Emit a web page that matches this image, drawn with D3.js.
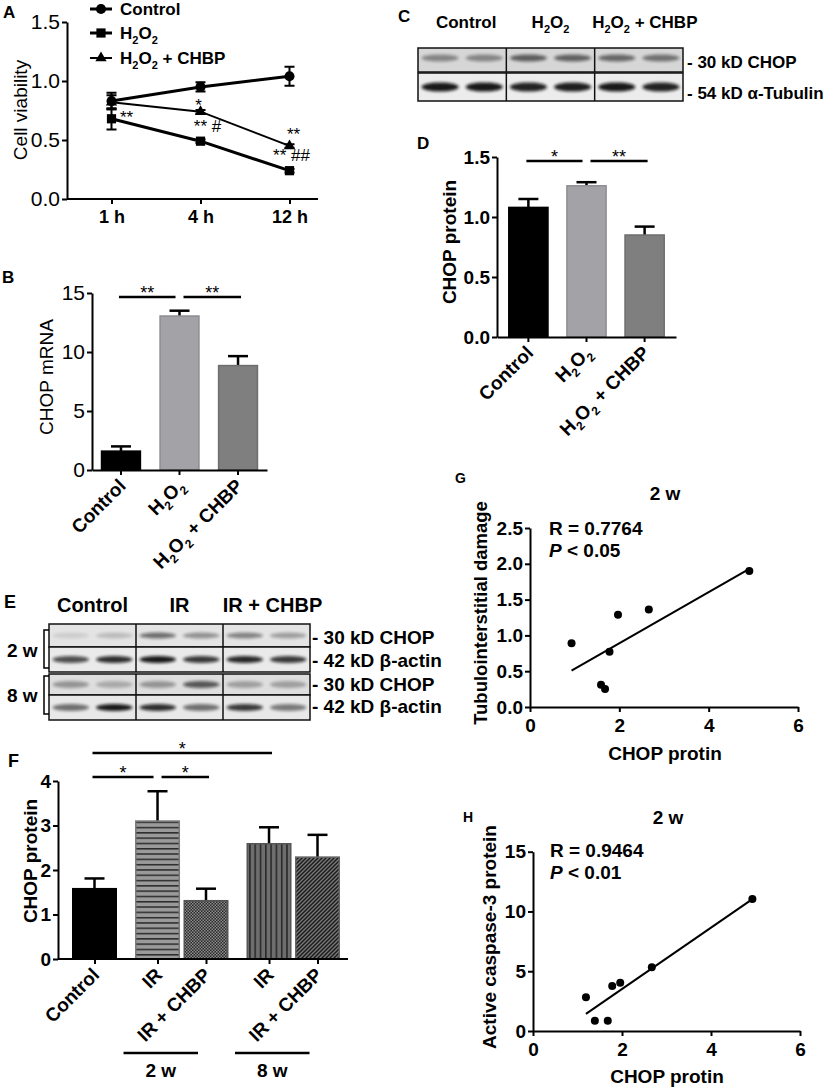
<!DOCTYPE html>
<html>
<head>
<meta charset="utf-8">
<script src="https://cdn.jsdelivr.net/npm/d3@7"></script>
<style>
  body { margin: 0; background: #fff; }
  svg text { font-family: "Liberation Sans", Arial, Helvetica, sans-serif; fill: #000; }
</style>
</head>
<body>
<svg id="fig" width="829" height="1089"></svg>
<script>
// ---- A: cell viability over time ----
const timeLabels = ['1 h', '4 h', '12 h'];
const seriesNamesA = ['Control', 'H2O2', 'H2O2 + CHBP'];
const viabilityControl = [0.83, 0.95, 1.04];
const viabilityControlErr = [0.07, 0.04, 0.08];
const viabilityH2O2 = [0.68, 0.49, 0.24];
const viabilityH2O2Err = [0.09, 0.015, 0.015];
const viabilityCHBP = [0.82, 0.74, 0.45];
const viabilityCHBPErr = [0.06, 0.015, 0.015];
const sigTextA = ['**', '*', '** #', '**', '** ##'];
const sigTimeA = ['1 h', '4 h', '4 h', '12 h', '12 h'];
const sigLevelA = [0.64, 0.75, 0.57, 0.50, 0.32];

// ---- B / D: cell groups ----
const groupsBD = ['Control', 'H2O2', 'H2O2 + CHBP'];
const mrnaMean = [1.6, 13.05, 8.85];
const mrnaErr = [0.4, 0.45, 0.8];
const proteinMean = [1.08, 1.26, 0.85];
const proteinErr = [0.07, 0.03, 0.07];

// ---- C: blot band intensities (6 lanes) ----
const blotCGroups = ['Control', 'H2O2', 'H2O2 + CHBP'];
const blotCRows = ['- 30 kD CHOP', '- 54 kD α-Tubulin'];
const blotCChop = [0.4, 0.4, 0.6, 0.58, 0.55, 0.5];
const blotCTubulin = [0.95, 0.95, 0.9, 0.92, 0.95, 0.9];

// ---- E: blot band intensities ----
const blotEGroups = ['Control', 'IR', 'IR + CHBP'];
const blotERows = ['- 30 kD CHOP', '- 42 kD β-actin', '- 30 kD CHOP', '- 42 kD β-actin'];
const blotEPeriods = ['2 w', '8 w'];
const blotE2wChop = [0.1, 0.18, 0.55, 0.38, 0.45, 0.32];
const blotE2wActin = [0.7, 0.85, 0.95, 0.8, 0.88, 0.8];
const blotE8wChop = [0.35, 0.25, 0.35, 0.65, 0.3, 0.3];
const blotE8wActin = [0.55, 0.95, 0.85, 0.55, 0.8, 0.5];

// ---- F: CHOP protein in kidney ----
const groupsF = ['Control', 'IR', 'IR + CHBP', 'IR', 'IR + CHBP'];
const periodF = ['', '2 w', '2 w', '8 w', '8 w'];
const chopF = [1.58, 3.1, 1.31, 2.59, 2.29];
const chopFErr = [0.23, 0.67, 0.27, 0.37, 0.5];

// ---- G / H: correlations at 2 w ----
const chopG = [0.93, 1.59, 1.68, 1.78, 1.97, 2.66, 4.91];
const damageG = [0.89, 0.31, 0.25, 0.77, 1.29, 1.36, 1.90];
const chopH = [1.19, 1.39, 1.68, 1.78, 1.96, 2.67, 4.93];
const caspaseH = [2.82, 0.86, 0.86, 3.76, 4.04, 5.33, 11.04];

const svg = d3.select('#fig');
const defs = svg.append('defs');

defs.append('filter').attr('id', 'blur')
    .attr('x', '-30%').attr('y', '-100%').attr('width', '160%').attr('height', '300%')
    .append('feGaussianBlur').attr('stdDeviation', 1.6);

function pattern(id, w, h, bg, draw) {
    const p = defs.append('pattern').attr('id', id)
        .attr('patternUnits', 'userSpaceOnUse').attr('width', w).attr('height', h);
    p.append('rect').attr('width', w).attr('height', h).attr('fill', bg);
    draw(p);
}
pattern('hlines', 6, 5.3, '#9a9a9a', p =>
    p.append('rect').attr('width', 6).attr('height', 1.5).attr('fill', '#2b2b2b'));
pattern('checks', 3, 3, '#2a2a2a', p => {
    p.append('rect').attr('width', 1.5).attr('height', 1.5).attr('fill', '#8c8c8c');
    p.append('rect').attr('x', 1.5).attr('y', 1.5).attr('width', 1.5).attr('height', 1.5).attr('fill', '#8c8c8c');
});
pattern('vlines', 5.3, 6, '#6e6e6e', p =>
    p.append('rect').attr('width', 1.6).attr('height', 6).attr('fill', '#2a2a2a'));
pattern('diag', 4, 4, '#7a7a7a', p =>
    p.append('path').attr('d', 'M-1,1 l2,-2 M0,4 l4,-4 M3,5 l2,-2')
        .attr('stroke', '#1a1a1a').attr('stroke-width', 1.5));

// text with H2O2 subscripts
function richText(sel, str, size) {
    const sub = Math.round(size * 0.62);
    const shift = size * 0.28;
    let pending = 0;
    str.split(/(H2O2)/).filter(s => s.length).forEach(tok => {
        if (tok === 'H2O2') {
            sel.append('tspan').attr('dy', -pending).text('H');
            sel.append('tspan').attr('font-size', sub).attr('dy', shift).text('2');
            sel.append('tspan').attr('dy', -shift).text('O');
            sel.append('tspan').attr('font-size', sub).attr('dy', shift).text('2');
            pending = shift;
        } else {
            sel.append('tspan').attr('dy', -pending).text(tok);
            pending = 0;
        }
    });
}

function styleAxis(g, size, weight) {
    g.attr('font-family', null).attr('font-size', null);
    g.selectAll('.domain').attr('stroke', '#000').attr('stroke-width', 2);
    g.selectAll('.tick line').attr('stroke', '#000').attr('stroke-width', 2);
    g.selectAll('.tick text').attr('font-size', size).attr('font-weight', weight).attr('fill', '#000');
}

function panelLetter(x, y, t, size) {
    svg.append('text').attr('x', x).attr('y', y).attr('font-size', size || 17)
        .attr('font-weight', 'bold').text(t);
}

function yTitle(x, y, t, size, weight) {
    svg.append('text').attr('transform', `translate(${x},${y}) rotate(-90)`)
        .attr('text-anchor', 'middle').attr('font-size', size).attr('font-weight', weight).text(t);
}

function slantLabels(centers, labels, y0, size) {
    labels.forEach((lab, i) => {
        const t = svg.append('text')
            .attr('transform', `translate(${centers[i] + 6},${y0 + 17}) rotate(-45)`)
            .attr('text-anchor', 'end').attr('font-size', size).attr('font-weight', 'bold');
        richText(t, lab, size);
    });
}

function sigLines(centers, comps, y, size) {
    comps.forEach(c => {
        const [i, j, txt, level] = c;
        const sharedLeft = comps.some(o => o !== c && o[1] === i);
        const sharedRight = comps.some(o => o !== c && o[0] === j);
        const x1 = centers[i] + (sharedLeft ? 4 : -2);
        const x2 = centers[j] + (sharedRight ? -4 : 3);
        svg.append('line').attr('x1', x1).attr('x2', x2).attr('y1', y(level)).attr('y2', y(level))
            .attr('stroke', '#000').attr('stroke-width', 2.5);
        svg.append('text').attr('x', (x1 + x2) / 2).attr('y', y(level) + 2)
            .attr('text-anchor', 'middle').attr('font-size', size).text(txt);
    });
}

function bars(centers, width, means, errs, y, fills, strokes) {
    means.forEach((m, i) => {
        svg.append('line').attr('x1', centers[i]).attr('x2', centers[i])
            .attr('y1', y(m)).attr('y2', y(m + errs[i])).attr('stroke', '#000').attr('stroke-width', 2.5);
        svg.append('line').attr('x1', centers[i] - 10).attr('x2', centers[i] + 10)
            .attr('y1', y(m + errs[i])).attr('y2', y(m + errs[i])).attr('stroke', '#000').attr('stroke-width', 2.5);
        svg.append('rect').attr('x', centers[i] - width / 2 + 0.75).attr('y', y(m))
            .attr('width', width - 1.5).attr('height', y(0) - y(m))
            .attr('fill', fills[i]).attr('stroke', strokes[i]).attr('stroke-width', 1.5);
    });
}

// ================= A =================
panelLetter(3, 18, 'A');
const xA = d3.scalePoint().domain(timeLabels).range([67, 334]).padding(0.5);
const yA = d3.scaleLinear().domain([0, 1.5]).range([199, 22]);
svg.append('g').attr('transform', 'translate(67,0)')
    .call(d3.axisLeft(yA).tickValues([0, 0.5, 1, 1.5]).tickFormat(d3.format('.1f'))
        .tickSize(5).tickPadding(2).tickSizeOuter(0))
    .call(g => styleAxis(g, 21, 'normal'));
svg.append('g').attr('transform', 'translate(0,199)')
    .call(d3.axisBottom(xA).tickSize(5).tickPadding(6).tickSizeOuter(0))
    .call(g => styleAxis(g, 18, 'bold'))
    .call(g => g.select('.domain').attr('d', 'M67,0H318'));
yTitle(27, 110, 'Cell viability', 19, 'normal');

const seriesA = [
    { name: seriesNamesA[0], values: viabilityControl, errs: viabilityControlErr, symbol: d3.symbolCircle, size: 80, width: 3 },
    { name: seriesNamesA[1], values: viabilityH2O2, errs: viabilityH2O2Err, symbol: d3.symbolSquare, size: 85, width: 3 },
    { name: seriesNamesA[2], values: viabilityCHBP, errs: viabilityCHBPErr, symbol: d3.symbolTriangle, size: 55, width: 2 }
];
const lineA = d3.line().x((d, i) => xA(timeLabels[i])).y(d => yA(d));
seriesA.forEach(s => {
    svg.append('path').attr('d', lineA(s.values)).attr('fill', 'none')
        .attr('stroke', '#000').attr('stroke-width', s.width);
});
seriesA.forEach(s => {
    s.values.forEach((v, i) => {
        const x = xA(timeLabels[i]);
        svg.append('path')
            .attr('d', `M${x},${yA(v - s.errs[i])}V${yA(v + s.errs[i])}` +
                `M${x - 5},${yA(v - s.errs[i])}h10M${x - 5},${yA(v + s.errs[i])}h10`)
            .attr('stroke', '#000').attr('stroke-width', 2).attr('fill', 'none');
        svg.append('path').attr('d', d3.symbol(s.symbol, s.size)())
            .attr('transform', `translate(${x},${yA(v)})`).attr('fill', '#000');
    });
});
sigTextA.forEach((t, i) => {
    const dx = [15, -2, 7, 4, 2][i];
    svg.append('text').attr('x', xA(sigTimeA[i]) + dx).attr('y', yA(sigLevelA[i]))
        .attr('text-anchor', 'middle').attr('font-size', 17).text(t);
});
// legend
seriesA.forEach((s, i) => {
    const ly = [9, 33, 58][i];
    svg.append('line').attr('x1', 90).attr('x2', 112).attr('y1', ly).attr('y2', ly)
        .attr('stroke', '#000').attr('stroke-width', s.width);
    svg.append('path').attr('d', d3.symbol(s.symbol, s.size)())
        .attr('transform', `translate(101,${ly})`).attr('fill', '#000');
    const t = svg.append('text').attr('x', 120).attr('y', ly + 6)
        .attr('font-size', 17).attr('font-weight', 'bold');
    richText(t, s.name, 17);
});

// ================= B =================
panelLetter(2, 283, 'B');
const xB = d3.scaleBand().domain(groupsBD).range([92, 267]).paddingInner(0.31).paddingOuter(0.15);
const yB = d3.scaleLinear().domain([0, 15]).range([470, 293]);
const centersB = groupsBD.map(g => xB(g) + xB.bandwidth() / 2);
const barFillsBD = ['#000', '#a2a2a7', '#7f7f7f'];
const barStrokesBD = ['#000', '#8e8e92', '#6e6e6e'];
bars(centersB, xB.bandwidth(), mrnaMean, mrnaErr, yB, barFillsBD, barStrokesBD);
svg.append('g').attr('transform', 'translate(92,0)')
    .call(d3.axisLeft(yB).tickValues([0, 5, 10, 15]).tickFormat(d3.format('d'))
        .tickSize(5).tickPadding(2).tickSizeOuter(0))
    .call(g => styleAxis(g, 21, 'normal'));
svg.append('g').attr('transform', 'translate(0,470)')
    .call(d3.axisBottom(xB).tickSize(5).tickFormat('').tickSizeOuter(0))
    .call(g => styleAxis(g, 18, 'bold'));
yTitle(53, 377, 'CHOP mRNA', 19, 'normal');
slantLabels(centersB, groupsBD, 470, 19);
sigLines(centersB, [[0, 1, '**', 14.66], [1, 2, '**', 14.66]], yB, 18);

// ================= C =================
panelLetter(398, 22, 'C');
function drawBlot(x0, x1, rows, nLanes) {
    const lane = d3.scaleBand().domain(d3.range(nLanes)).range([x0, x1]);
    rows.forEach(r => {
        svg.append('rect').attr('x', x0).attr('y', r.y0).attr('width', x1 - x0)
            .attr('height', r.y1 - r.y0).attr('fill', r.bg);
        r.values.forEach((v, i) => {
            svg.append('ellipse')
                .attr('cx', lane(i) + lane.bandwidth() / 2)
                .attr('cy', (r.y0 + r.y1) / 2 + (r.dy || 0))
                .attr('rx', lane.bandwidth() * 0.42).attr('ry', r.ry)
                .attr('fill', '#111').attr('opacity', v).attr('filter', 'url(#blur)');
        });
        svg.append('rect').attr('x', x0).attr('y', r.y0).attr('width', x1 - x0)
            .attr('height', r.y1 - r.y0).attr('fill', 'none')
            .attr('stroke', '#111').attr('stroke-width', 1.5);
        [2, 4].forEach(k => {
            svg.append('line').attr('x1', lane(k)).attr('x2', lane(k))
                .attr('y1', r.y0).attr('y2', r.y1).attr('stroke', '#111').attr('stroke-width', 1.5);
        });
    });
    return lane;
}
const laneC = drawBlot(418, 683, [
    { y0: 48, y1: 72, values: blotCChop, ry: 3.5, bg: '#d6d6d6', dy: -2 },
    { y0: 73, y1: 101, values: blotCTubulin, ry: 4.5, bg: '#ececec' }
], 6);
blotCGroups.forEach((g, k) => {
    const t = svg.append('text').attr('x', laneC(2 * k) + laneC.bandwidth() + (k === 0 ? 4 : k === 2 ? 6 : 0))
        .attr('y', 28).attr('text-anchor', 'middle').attr('font-size', 17).attr('font-weight', 'bold');
    richText(t, g, 17);
});
blotCRows.forEach((r, i) => {
    svg.append('text').attr('x', 687).attr('y', [68, 99][i])
        .attr('font-size', 17).attr('font-weight', 'bold').text(r);
});

// ================= D =================
panelLetter(417, 149, 'D');
const xD = d3.scaleBand().domain(groupsBD).range([497, 676]).paddingInner(0.3).paddingOuter(0.19);
const yD = d3.scaleLinear().domain([0, 1.5]).range([337, 157]);
const centersD = groupsBD.map(g => xD(g) + xD.bandwidth() / 2);
bars(centersD, xD.bandwidth(), proteinMean, proteinErr, yD, barFillsBD, barStrokesBD);
svg.append('g').attr('transform', 'translate(497,0)')
    .call(d3.axisLeft(yD).tickValues([0, 0.5, 1, 1.5]).tickFormat(d3.format('.1f'))
        .tickSize(5).tickPadding(2).tickSizeOuter(0))
    .call(g => styleAxis(g, 19, 'bold'));
svg.append('g').attr('transform', 'translate(0,337)')
    .call(d3.axisBottom(xD).tickSize(5).tickFormat('').tickSizeOuter(0))
    .call(g => styleAxis(g, 18, 'bold'));
yTitle(456, 242, 'CHOP protein', 19, 'bold');
slantLabels(centersD, groupsBD, 337, 19);
sigLines(centersD, [[0, 1, '*', 1.467], [1, 2, '**', 1.467]], yD, 18);

// ================= E =================
panelLetter(4, 608, 'E', 18);
const laneE = drawBlot(49, 310, [
    { y0: 624, y1: 647, values: blotE2wChop, ry: 3, bg: '#e4e4e4' },
    { y0: 647, y1: 672, values: blotE2wActin, ry: 3.5, bg: '#eaeaea' },
    { y0: 674, y1: 695, values: blotE8wChop, ry: 3.5, bg: '#dedede' },
    { y0: 695, y1: 720, values: blotE8wActin, ry: 3.5, bg: '#e8e8e8' }
], 6);
blotEGroups.forEach((g, k) => {
    svg.append('text').attr('x', laneE(2 * k) + laneE.bandwidth() + (k === 2 ? 6 : 0))
        .attr('y', 612).attr('text-anchor', 'middle').attr('font-size', 20).attr('font-weight', 'bold').text(g);
});
blotERows.forEach((r, i) => {
    svg.append('text').attr('x', 312).attr('y', [644, 667, 691, 713][i])
        .attr('font-size', 19).attr('font-weight', 'bold').text(r);
});
blotEPeriods.forEach((p, i) => {
    svg.append('text').attr('x', 7).attr('y', [657, 702][i])
        .attr('font-size', 19).attr('font-weight', 'bold').text(p);
    const [b0, b1] = [[630, 668], [676, 714]][i];
    svg.append('path').attr('d', `M49,${b0}H44V${b1}H49`).attr('fill', 'none')
        .attr('stroke', '#000').attr('stroke-width', 1.5);
});

// ================= F =================
panelLetter(8, 767, 'F', 18);
const slotF = [];
let slot = 0;
periodF.forEach((p, i) => {
    if (i > 0) slot += (p === periodF[i - 1]) ? 1 : 1.3;
    slotF.push(slot);
});
const xF = d3.scaleLinear().domain([0, d3.max(slotF)]).range([94.5, 317.5]);
const yF = d3.scaleLinear().domain([0, 4]).range([959, 781]);
const centersF = slotF.map(s => xF(s));
bars(centersF, 45, chopF, chopFErr, yF,
    ['#000', 'url(#hlines)', 'url(#checks)', 'url(#vlines)', 'url(#diag)'],
    ['#000', '#7a7a7a', '#555', '#555', '#666']);
svg.append('g').attr('transform', 'translate(58,0)')
    .call(d3.axisLeft(yF).tickValues([0, 1, 2, 3, 4]).tickFormat(d3.format('d'))
        .tickSize(5).tickPadding(2).tickSizeOuter(0))
    .call(g => styleAxis(g, 19, 'bold'));
svg.append('g').attr('transform', 'translate(0,959)')
    .call(d3.axisBottom(xF).tickValues(slotF).tickFormat('').tickSize(5).tickSizeOuter(0))
    .call(g => styleAxis(g, 18, 'bold'))
    .call(g => g.select('.domain').attr('d', 'M58,0H348'));
yTitle(37, 861, 'CHOP protein', 19, 'bold');
slantLabels(centersF, groupsF, 959, 19);
sigLines(centersF, [[0, 1, '*', 4.09], [1, 2, '*', 4.09], [0, 3, '*', 4.63]], yF, 18);
Array.from(new Set(periodF.filter(p => p))).forEach(p => {
    const idx = periodF.map((q, i) => q === p ? i : -1).filter(i => i >= 0);
    const x1 = centersF[idx[0]] - 34;
    const x2 = centersF[idx[idx.length - 1]] - 8;
    svg.append('line').attr('x1', x1).attr('x2', x2).attr('y1', 1053).attr('y2', 1053)
        .attr('stroke', '#000').attr('stroke-width', 2.5);
    svg.append('text').attr('x', (x1 + x2) / 2).attr('y', 1077).attr('text-anchor', 'middle')
        .attr('font-size', 19).attr('font-weight', 'bold').text(p);
});

// ================= G / H =================
function scatter(o) {
    const x = d3.scaleLinear().domain([0, 6]).range([o.x0, o.x1]);
    const y = d3.scaleLinear().domain([0, o.ymax]).range([o.y0, o.y1]);
    svg.append('g').attr('transform', `translate(${o.x0},0)`)
        .call(d3.axisLeft(y).tickValues(o.yticks).tickFormat(o.yfmt).tickSize(5).tickPadding(2).tickSizeOuter(0))
        .call(g => styleAxis(g, 19, 'bold'));
    svg.append('g').attr('transform', `translate(0,${o.y0})`)
        .call(d3.axisBottom(x).tickValues([0, 2, 4, 6]).tickFormat(d3.format('d'))
            .tickSize(5).tickPadding(7).tickSizeOuter(0))
        .call(g => styleAxis(g, 19, 'bold'));
    // least-squares fit
    const mx = d3.mean(o.xs), my = d3.mean(o.ys);
    const slope = d3.sum(o.xs, (v, i) => (v - mx) * (o.ys[i] - my)) / d3.sum(o.xs, v => (v - mx) * (v - mx));
    const [xmin, xmax] = d3.extent(o.xs);
    svg.append('line')
        .attr('x1', x(xmin)).attr('y1', y(my + slope * (xmin - mx)))
        .attr('x2', x(xmax)).attr('y2', y(my + slope * (xmax - mx)))
        .attr('stroke', '#000').attr('stroke-width', 2);
    o.xs.forEach((v, i) => {
        svg.append('circle').attr('cx', x(v)).attr('cy', y(o.ys[i])).attr('r', 4).attr('fill', '#000');
    });
    svg.append('text').attr('x', o.tx).attr('y', o.ty).attr('font-size', 19).attr('font-weight', 'bold').text(o.rText);
    const p = svg.append('text').attr('x', o.tx).attr('y', o.ty + 22).attr('font-size', 19).attr('font-weight', 'bold');
    p.append('tspan').attr('font-style', 'italic').text('P');
    p.append('tspan').text(' ' + o.pText);
}

panelLetter(455, 483, 'G', 14);
svg.append('text').attr('x', 665).attr('y', 500).attr('text-anchor', 'middle')
    .attr('font-size', 19).attr('font-weight', 'bold').text('2 w');
scatter({ x0: 530, x1: 798, y0: 707, y1: 528, ymax: 2.5, yticks: [0, 0.5, 1, 1.5, 2, 2.5],
    yfmt: d3.format('.1f'), xs: chopG, ys: damageG, tx: 549, ty: 535,
    rText: 'R = 0.7764', pText: '< 0.05' });
yTitle(487, 613, 'Tubulointerstitial damage', 18.5, 'bold');
svg.append('text').attr('x', 665).attr('y', 760).attr('text-anchor', 'middle')
    .attr('font-size', 19).attr('font-weight', 'bold').text('CHOP protin');

panelLetter(463, 822, 'H', 14);
svg.append('text').attr('x', 668).attr('y', 824).attr('text-anchor', 'middle')
    .attr('font-size', 19).attr('font-weight', 'bold').text('2 w');
scatter({ x0: 533, x1: 800, y0: 1031, y1: 851.7, ymax: 15, yticks: [0, 5, 10, 15],
    yfmt: d3.format('d'), xs: chopH, ys: caspaseH, tx: 550, ty: 857,
    rText: 'R = 0.9464', pText: '< 0.01' });
yTitle(496, 937, 'Active caspase-3 protein', 19, 'bold');
svg.append('text').attr('x', 667).attr('y', 1083).attr('text-anchor', 'middle')
    .attr('font-size', 19).attr('font-weight', 'bold').text('CHOP protin');
</script>
</body>
</html>
